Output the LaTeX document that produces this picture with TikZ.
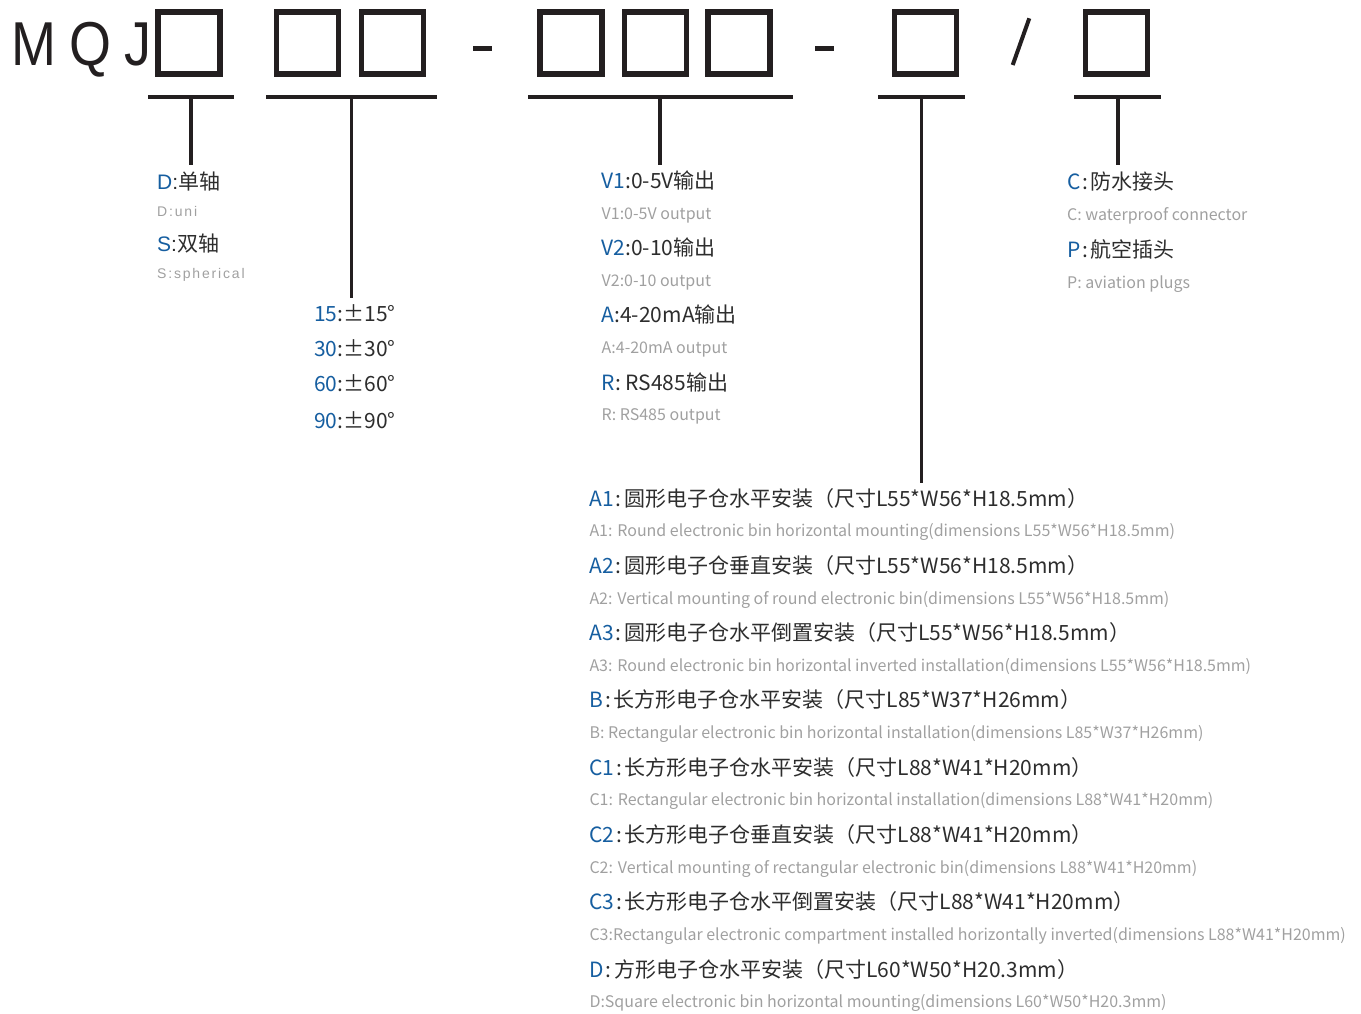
\documentclass[tikz,border=0pt]{standalone}
\usepackage{fontspec}
\setmainfont{Noto Sans CJK SC}
\newfontfamily\lsans{Liberation Sans}
\newfontfamily\lsanswide[LetterSpace=13]{Liberation Sans}
\newfontfamily\logofont[FakeStretch=0.87,LetterSpace=21]{Liberation Sans}
\newfontfamily\cjk{Noto Sans CJK SC}
\usepackage{tikz}
\usetikzlibrary{positioning}

\definecolor{codeblue}{RGB}{22,94,160}
\definecolor{inkblack}{RGB}{35,31,32}
\definecolor{textdark}{RGB}{45,45,45}
\definecolor{textgray}{RGB}{160,160,160}

\newcommand{\ck}[1]{{\color{codeblue}#1}}

\tikzset{
  codebox/.style={rectangle, draw=inkblack, line width=5.5pt, minimum width=62pt, minimum height=62pt, inner sep=0pt},
  dashbar/.style={rectangle, fill=inkblack, minimum width=19pt, minimum height=4.7pt, inner sep=0pt},
  bar/.style={draw=inkblack, line width=3.5pt},
  cnline/.style={anchor=base west, inner sep=0pt, text=textdark, font=\cjk\fontsize{21}{25}\selectfont},
  ennote/.style={anchor=base west, inner sep=0pt, text=textgray, font=\cjk\fontsize{16}{19}\selectfont},
  axline/.style={anchor=base west, inner sep=0pt, text=textdark, font=\fontsize{21}{25}\selectfont},
  axnote/.style={anchor=base west, inner sep=0pt, text=textgray, font=\lsanswide\fontsize{14}{17}\selectfont}
}

\begin{document}
\begin{tikzpicture}[x=1pt, y=-1pt]
  \useasboundingbox (0,0) rectangle (1361,1013);

  % model code
  \node[anchor=base west, inner sep=0pt, text=inkblack, font=\logofont\fontsize{62}{70}\selectfont] (head) at (11,65) {MQJ};
  \node[codebox] (b1) at (188.8,43) {};
  \node[codebox] (b2) at (307.5,43) {};
  \node[codebox] (b3) at (392.5,43) {};
  \node[dashbar] (dash1) at (482.2,48.3) {};
  \node[codebox] (b4) at (570.8,43) {};
  \node[codebox] (b5) at (655.5,43) {};
  \node[codebox] (b6) at (739.2,43) {};
  \node[dashbar] (dash2) at (824.2,48.3) {};
  \node[codebox] (b7) at (925.5,43) {};
  \coordinate (sl1) at (1012.7,65);
  \coordinate (sl2) at (1029.3,18.3);
  \draw[draw=inkblack, line width=4pt] (sl1) -- (sl2);
  \node[codebox] (b8) at (1116.4,43) {};

  % brackets
  \coordinate (bar1w) at (148,97);   \coordinate (bar1e) at (234,97);
  \coordinate (bar2w) at (266,97);   \coordinate (bar2e) at (437,97);
  \coordinate (bar3w) at (528,97);   \coordinate (bar3e) at (793,97);
  \coordinate (bar4w) at (878,97);   \coordinate (bar4e) at (965,97);
  \coordinate (bar5w) at (1074,97);  \coordinate (bar5e) at (1161,97);
  \draw[bar] (bar1w) -- (bar1e);
  \draw[bar] (bar2w) -- (bar2e);
  \draw[bar] (bar3w) -- (bar3e);
  \draw[bar] (bar4w) -- (bar4e);
  \draw[bar] (bar5w) -- (bar5e);

  \coordinate (stem1) at (191,97);   \coordinate (end1) at (191,165);
  \coordinate (stem2) at (351.5,97); \coordinate (end2) at (351.5,298);
  \coordinate (stem3) at (660,97);   \coordinate (end3) at (660,165);
  \coordinate (stem4) at (921.5,97); \coordinate (end4) at (921.5,483);
  \coordinate (stem5) at (1118,97);  \coordinate (end5) at (1118,165);
  \draw[bar] (stem1) -- (end1);
  \draw[bar] (stem2) -- (end2);
  \draw[bar] (stem3) -- (end3);
  \draw[bar] (stem4) -- (end4);
  \draw[bar] (stem5) -- (end5);

  % axis
  \node[axline] (axD) at (157,189) {\lsans\ck{D}:\cjk 单轴};
  \node[axnote] (axDen) at (157,216.7) {D:uni};
  \node[axline] (axS) at (157,251.7) {\lsans\ck{S}:\cjk 双轴};
  \node[axnote] (axSen) at (157,278.3) {S:spherical};

  % angle
  \node[cnline] (ang15) at (314,321) {\ck{15}:±15°};
  \node[cnline] (ang30) at (314,356.7) {\ck{30}:±30°};
  \node[cnline] (ang60) at (314,391.7) {\ck{60}:±60°};
  \node[cnline] (ang90) at (314,428.3) {\ck{90}:±90°};

  % output
  \node[cnline] (outV1) at (601.5,188.5) {\ck{V1}:0-5V输出};
  \node[ennote] (outV1en) at (601.5,219.5) {V1:0-5V output};
  \node[cnline] (outV2) at (601.5,255.5) {\ck{V2}:0-10输出};
  \node[ennote] (outV2en) at (601.5,286.5) {V2:0-10 output};
  \node[cnline] (outA) at (601.5,322.7) {\ck{A}:4-20mA输出};
  \node[ennote] (outAen) at (601.5,353.5) {A:4-20mA output};
  \node[cnline] (outR) at (601.5,390) {\ck{R}: RS485输出};
  \node[ennote] (outRen) at (601.5,420.5) {R: RS485 output};

  % connector
  \node[cnline] (conC) at (1067,189.3) {\ck{C}\kern2pt:\kern2.5pt防水接头};
  \node[ennote] (conCen) at (1067,220) {C: waterproof connector};
  \node[cnline] (conP) at (1067,257.3) {\ck{P}\kern2pt:\kern2.5pt航空插头};
  \node[ennote] (conPen) at (1067,288.3) {P: aviation plugs};

  % mounting
  \node[cnline] (mntA1) at (589.3,506) {\ck{A1}\kern2pt:\kern2.5pt圆形电子仓水平安装（尺寸L55*W56*H18.5mm）};
  \node[ennote] (mntA1en) at (589.3,536.7) {A1: Round electronic bin horizontal mounting(dimensions L55*W56*H18.5mm)};
  \node[cnline] (mntA2) at (589.3,573.3) {\ck{A2}\kern2pt:\kern2.5pt圆形电子仓垂直安装（尺寸L55*W56*H18.5mm）};
  \node[ennote] (mntA2en) at (589.3,604) {A2: Vertical mounting of round electronic bin(dimensions L55*W56*H18.5mm)};
  \node[cnline] (mntA3) at (589.3,640.6) {\ck{A3}\kern2pt:\kern2.5pt圆形电子仓水平倒置安装（尺寸L55*W56*H18.5mm）};
  \node[ennote] (mntA3en) at (589.3,671.3) {A3: Round electronic bin horizontal inverted installation(dimensions L55*W56*H18.5mm)};
  \node[cnline] (mntB) at (589.3,707.9) {\ck{B}\kern2pt:\kern2.5pt长方形电子仓水平安装（尺寸L85*W37*H26mm）};
  \node[ennote] (mntBen) at (589.3,738.6) {B: Rectangular electronic bin horizontal installation(dimensions L85*W37*H26mm)};
  \node[cnline] (mntC1) at (589.3,775.2) {\ck{C1}\kern2pt:\kern2.5pt长方形电子仓水平安装（尺寸L88*W41*H20mm）};
  \node[ennote] (mntC1en) at (589.3,805.9) {C1: Rectangular electronic bin horizontal installation(dimensions L88*W41*H20mm)};
  \node[cnline] (mntC2) at (589.3,842.5) {\ck{C2}\kern2pt:\kern2.5pt长方形电子仓垂直安装（尺寸L88*W41*H20mm）};
  \node[ennote] (mntC2en) at (589.3,873.2) {C2: Vertical mounting of rectangular electronic bin(dimensions L88*W41*H20mm)};
  \node[cnline] (mntC3) at (589.3,909.8) {\ck{C3}\kern2pt:\kern2.5pt长方形电子仓水平倒置安装（尺寸L88*W41*H20mm）};
  \node[ennote] (mntC3en) at (589.3,940.5) {C3:Rectangular electronic compartment installed horizontally inverted(dimensions L88*W41*H20mm)};
  \node[cnline] (mntD) at (589.3,977) {\ck{D}\kern2pt:\kern2.5pt方形电子仓水平安装（尺寸L60*W50*H20.3mm）};
  \node[ennote] (mntDen) at (589.3,1007.8) {D:Square electronic bin horizontal mounting(dimensions L60*W50*H20.3mm)};
\end{tikzpicture}
\end{document}
